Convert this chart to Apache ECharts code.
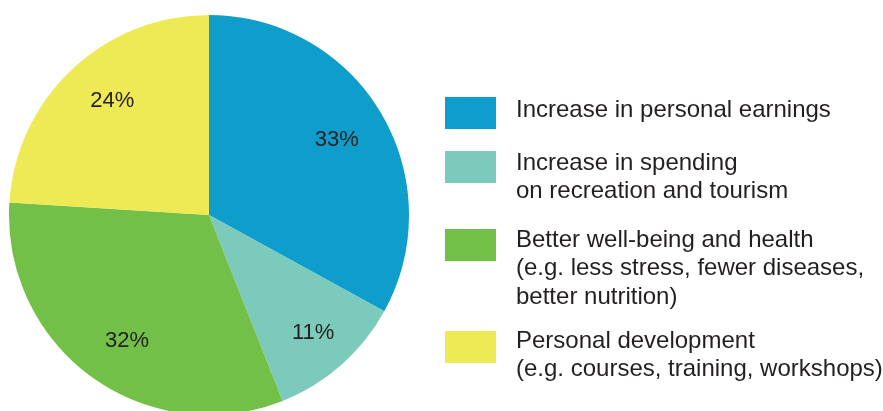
<!DOCTYPE html>
<html>
<head>
<meta charset="utf-8">
<script src="https://cdn.jsdelivr.net/npm/echarts@6/dist/echarts.min.js"></script>
<style>
  html, body { margin: 0; padding: 0; background: #fff; }
  #chart { width: 883px; height: 411px; }
</style>
</head>
<body>
<div id="chart"></div>
<script>
// data
const categories = [
  'Increase in personal earnings',
  'Increase in spending\non recreation and tourism',
  'Better well-being and health\n(e.g. less stress, fewer diseases,\nbetter nutrition)',
  'Personal development\n(e.g. courses, training, workshops)'
];
const shares = [33, 11, 32, 24];
const colors = ['#0f9dcc', '#7bcabb', '#73c048', '#eeea55'];
// legend layout (px)
const swatchTops = [97, 151, 229, 331];
const textTops = [96, 149, 226, 327];
// small nudges so the % labels sit where the original has them
const labelNudges = [[-4, 3], [3, 3], [8, 2], [8, -3]];

const chart = echarts.init(document.getElementById('chart'));
const FONT = '"Liberation Sans", Arial, sans-serif';

// legend drawn by hand so the swatch lines up with the first text line
const legendGraphics = [];
categories.forEach((name, i) => {
  legendGraphics.push({
    type: 'rect', left: 445, top: swatchTops[i],
    shape: { width: 51, height: 32 },
    style: { fill: colors[i] }
  });
  legendGraphics.push({
    type: 'text', left: 516, top: textTops[i],
    style: { text: name, fontSize: 24, fontFamily: FONT, fill: '#231f20', lineHeight: 28.5 }
  });
});

const option = {
  animation: false,
  graphic: legendGraphics,
  series: [
    {
      type: 'pie',
      center: [209, 215],
      radius: [0, 200],
      startAngle: 90,
      clockwise: true,
      label: { show: false },
      labelLine: { show: false },
      silent: true,
      data: categories.map((name, i) => ({ name: name, value: shares[i], itemStyle: { color: colors[i] } }))
    },
    {
      // transparent ring just to place the percentage labels further out
      type: 'pie',
      center: [209, 215],
      radius: [100, 200],
      startAngle: 90,
      clockwise: true,
      silent: true,
      itemStyle: { color: 'rgba(0,0,0,0)' },
      label: {
        show: true, position: 'inside',
        formatter: '{c}%',
        color: '#231f20', fontSize: 22, fontFamily: FONT
      },
      labelLine: { show: false },
      data: shares.map((v, i) => ({ name: categories[i], value: v, label: { offset: labelNudges[i] } }))
    }
  ]
};

chart.setOption(option);
</script>
</body>
</html>
